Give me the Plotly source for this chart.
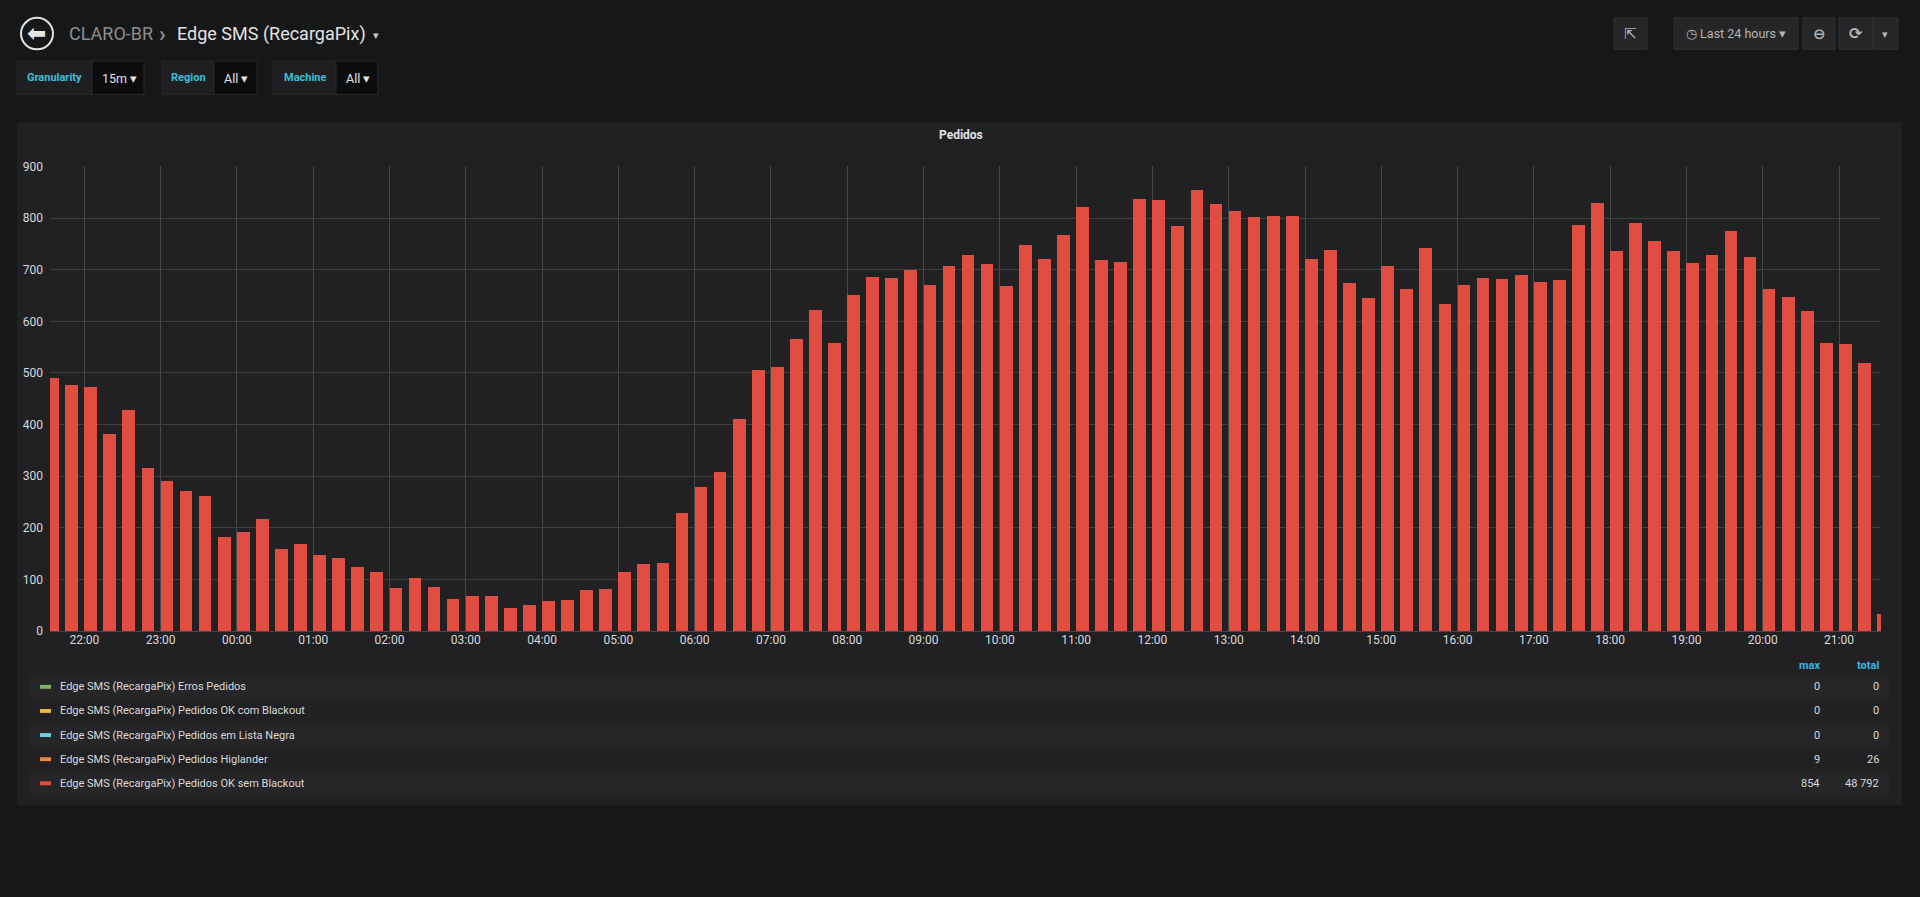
import pandas as pd
import plotly.graph_objects as go

W, H = 1920, 897

# Pedidos OK sem Blackout, one bucket every 15 minutes (last 24 hours)
start_time = "2021-06-09 21:30"
pedidos_ok = [490, 476, 471, 380, 427, 315, 289, 270, 261, 181, 192, 216,
              158, 167, 147, 140, 123, 113, 83, 101, 84, 62, 68, 68,
              43, 50, 57, 60, 78, 80, 113, 129, 131, 227, 279, 307,
              410, 505, 510, 565, 622, 557, 650, 685, 683, 698, 670, 707,
              727, 710, 668, 747, 719, 766, 820, 717, 714, 837, 834, 784,
              854, 826, 813, 801, 803, 803, 719, 737, 674, 644, 707, 661,
              742, 632, 670, 684, 681, 688, 676, 679, 786, 829, 735, 789,
              754, 735, 712, 728, 775, 723, 661, 647, 620, 557, 555, 518,
              33]
times = pd.date_range(start=start_time, periods=len(pedidos_ok), freq="15min")

# legend table
series_names = ["Edge SMS (RecargaPix) Erros Pedidos",
                "Edge SMS (RecargaPix) Pedidos OK com Blackout",
                "Edge SMS (RecargaPix) Pedidos em Lista Negra",
                "Edge SMS (RecargaPix) Pedidos Higlander",
                "Edge SMS (RecargaPix) Pedidos OK sem Blackout"]
series_colors = ["#7eb26d", "#eab839", "#6ed0e0", "#ef843c", "#e24d42"]
series_max = [0, 0, 0, 9, max(pedidos_ok)]
series_total = [0, 0, 0, 26, sum(pedidos_ok)]

PAGE = "#161719"
PANEL = "#212124"
TEXT = "#d8d9da"
BLUE = "#33b5e5"
TEAL = "#38c0d8"


def px(x):
    return x / W


def py(y):
    return 1 - y / H


def fmt(v):
    return f"{v:,}".replace(",", " ")


fig = go.Figure()
fig.add_trace(go.Bar(x=times, y=pedidos_ok, width=10 * 60 * 1000, offset=0,
                     marker=dict(color="#e24d42", line=dict(width=0)),
                     name=series_names[4], hoverinfo="x+y"))

shapes = []
ann = []


def box(x0, y0, x1, y1, fill, line=None):
    shapes.append(dict(type="rect", xref="paper", yref="paper",
                       x0=px(x0), x1=px(x1), y0=py(y1), y1=py(y0),
                       fillcolor=fill, layer="below",
                       line=dict(color=line or fill, width=1 if line else 0)))


def text(x, y, s, size=12, color=TEXT, anchor="left", family="Roboto"):
    ann.append(dict(xref="paper", yref="paper", x=px(x), y=py(y), text=s,
                    showarrow=False, xanchor=anchor, yanchor="middle",
                    font=dict(size=size, color=color, family=family)))


# panel
box(17, 117, 1902, 811, PANEL)
text(961, 130, "<b>Pedidos</b>", size=12, color="#e3e3e3", anchor="center")

# header
shapes.append(dict(type="circle", xref="paper", yref="paper",
                   x0=px(21), x1=px(53), y0=py(43), y1=py(11),
                   line=dict(color="#e3e3e3", width=2)))
text(36, 26, "<b>⬅</b>", size=23, color="#e3e3e3", anchor="center", family="DejaVu Sans")
text(67, 27, "CLARO-BR", size=18, color="#8e8e8e")
text(162, 27, "<b>›</b>", size=22, color="#8e8e8e", anchor="center")
text(175, 27, "Edge SMS (RecargaPix)", size=18, color="#e3e3e3")
text(376, 29, "▾", size=11, color="#c8c8c8", anchor="center", family="DejaVu Sans")

# variables
for lx0, lx1, vx1, label, value in [(17, 92, 144, "Granularity", "15m"),
                                     (162, 214, 257, "Region", "All"),
                                     (273, 336, 378, "Machine", "All")]:
    box(lx0, 55, lx1, 89, "#1f1f22", line="#28282b")
    box(lx1, 55, vx1, 89, "#0b0c0e", line="#28282b")
    text((lx0 + lx1) / 2, 72, "<b>" + label + "</b>", size=11, color=TEAL, anchor="center")
    text(lx1 + 8, 73, value + " ▾", size=12.5, color="#e3e3e3", family="Roboto")

# right toolbar
box(1614, 11, 1647, 43, "#262628", line="#303033")
text(1630, 27, "⇱", size=15, color="#b5b5b5", anchor="center", family="DejaVu Sans")
box(1674, 11, 1798, 43, "#262628", line="#303033")
text(1736, 27, "◷ Last 24 hours ▾", size=12.5, color="#b5b5b5", anchor="center", family="Roboto")
box(1803, 11, 1835, 43, "#262628", line="#303033")
text(1819, 27, "<b>⊖</b>", size=15, color="#b5b5b5", anchor="center", family="DejaVu Sans")
box(1839, 11, 1873, 43, "#262628", line="#303033")
text(1856, 27, "<b>⟳</b>", size=16, color="#b5b5b5", anchor="center", family="DejaVu Sans")
box(1873, 11, 1898, 43, "#262628", line="#303033")
text(1885, 28, "▾", size=11, color="#b5b5b5", anchor="center", family="DejaVu Sans")

# legend table
text(1822, 669, "<b>max</b>", size=11, color=BLUE, anchor="right")
text(1881, 669, "<b>total</b>", size=11, color=BLUE, anchor="right")
for i, name in enumerate(series_names):
    yc = 690.6 + i * 24.5
    if i % 2 == 0:
        box(29, yc - 12, 1889, yc + 12, "#262629")
    shapes.append(dict(type="rect", xref="paper", yref="paper",
                       x0=px(40), x1=px(51), y0=py(yc + 2), y1=py(yc - 2),
                       fillcolor=series_colors[i], line=dict(width=0)))
    text(58, yc, name, size=11, color=TEXT)
    text(1822, yc, fmt(series_max[i]), size=11, color=TEXT, anchor="right")
    text(1881, yc, fmt(series_total[i]), size=11, color=TEXT, anchor="right")

fig.update_layout(
    width=W, height=H, margin=dict(l=0, r=0, t=0, b=0),
    paper_bgcolor=PAGE, plot_bgcolor=PANEL,
    showlegend=False, bargap=0,
    font=dict(family="Roboto", color=TEXT, size=12),
    shapes=shapes, annotations=ann,
    xaxis=dict(domain=[px(50), px(1881)], type="date",
               range=["2021-06-09 21:33", "2021-06-10 21:33"],
               dtick=3600000, tickformat="%H:%M", showgrid=True,
               gridcolor="#47474a", gridwidth=1, zeroline=False,
               showline=False, ticks="", tickfont=dict(size=12, color=TEXT)),
    yaxis=dict(domain=[py(634), py(162)], range=[0, 900], dtick=100,
               showgrid=True, gridcolor="#3f3f42", gridwidth=1,
               zeroline=True, zerolinecolor="#47474a", zerolinewidth=1,
               showline=False, ticks="", ticklabelstandoff=6,
               tickfont=dict(size=12, color=TEXT)),
)

fig.write_html("out.html", config={"displayModeBar": False},
               post_script="document.body.style.margin='0';document.body.style.background='#161719';")
